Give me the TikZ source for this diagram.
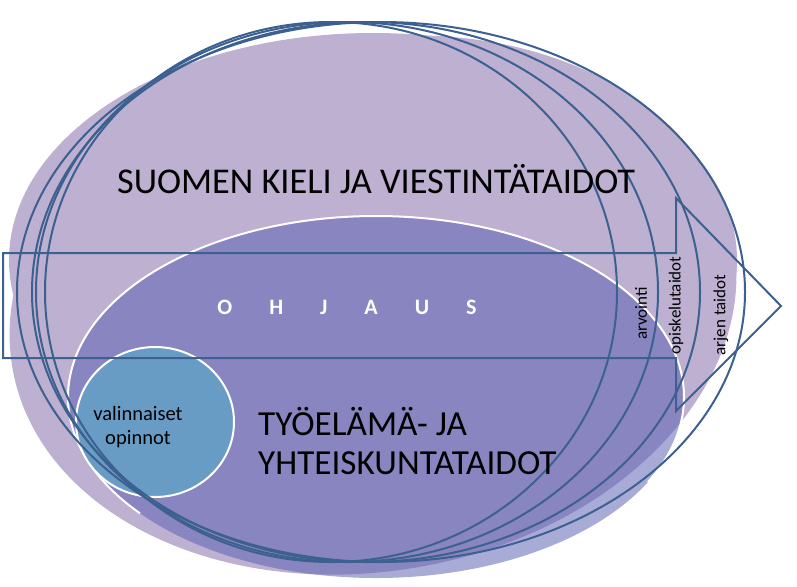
\documentclass[tikz,border=0pt]{standalone}
\usepackage{fontspec}
\setmainfont{Carlito}
\definecolor{lightpurple}{HTML}{BDB0D0}
\definecolor{innerviolet}{RGB}{92,96,179}
\definecolor{circleblue}{HTML}{699CC5}
\definecolor{lineblue}{HTML}{3C6190}
\tikzset{
  ringline/.style={draw=lineblue, line width=2pt},
  arrowline/.style={draw=lineblue, line width=2pt, line join=miter},
  bigtext/.style={inner sep=0pt, text=black, font=\fontsize{36.3}{42}\selectfont},
  sidetext/.style={inner sep=0pt, text=black, rotate=90, font=\fontsize{17}{20}\selectfont},
}
\begin{document}
\begin{tikzpicture}[x=1pt,y=-1pt]
\useasboundingbox (0,0) rectangle (797,586);
% outer light purple field (two overlapping ellipses give its egg shape)
\fill[lightpurple, rotate around={10:(373,305)}] (373,305) ellipse [x radius=366, y radius=266];
\fill[lightpurple] (373,260) ellipse [x radius=364, y radius=227];
% inner field (semi-transparent)
\fill[innerviolet, fill opacity=0.53] (376,397) ellipse [x radius=308, y radius=181];
\draw[white, line width=2pt] ([shift={(140:308 and 181)}]376,397) arc[start angle=140, end angle=388, x radius=308, y radius=181];
% small circle
\fill[circleblue, draw=white, line width=2pt] (155,422) ellipse [x radius=79, y radius=75];
% outline rings
\draw[ringline] (331,292) ellipse [x radius=286, y radius=270];
\draw[ringline] (347,292) ellipse [x radius=311, y radius=270];
\draw[ringline] (366,292) ellipse [x radius=334, y radius=270];
\draw[ringline] (381,292) ellipse [x radius=364, y radius=270];
% block arrow
\draw[arrowline] (3,253) -- (676,253) -- (676,198) -- (781,306) -- (676,411) -- (676,358) -- (3,358) -- cycle;
% texts
\node[bigtext, anchor=base west] (suomi) at (117,193.5) {SUOMEN KIELI JA VIESTINTÄTAIDOT};
\node[inner sep=0pt, anchor=base, text=white, font=\bfseries\fontsize{22}{26}\selectfont] (ohjaus) at (347,314) {O\hspace{37pt}H\hspace{37pt}J\hspace{37pt}A\hspace{37pt}U\hspace{37pt}S};
\node[inner sep=0pt, anchor=base west, align=left, text=black, font=\fontsize{35.2}{38.3}\selectfont] (tyoelama) at (258,474) {TYÖELÄMÄ- JA\\YHTEISKUNTATAIDOT};
\node[inner sep=0pt, anchor=base, align=center, text=black, font=\fontsize{20.5}{23.3}\selectfont] (valinnaiset) at (138,444) {valinnaiset\\opinnot};
\node[sidetext] (arvointi) at (641,313.5) {arvointi};
\node[sidetext] (opiskelu) at (676,305.5) {opiskelutaidot};
\node[sidetext] (arjen) at (721,315) {arjen taidot};
\end{tikzpicture}
\end{document}
